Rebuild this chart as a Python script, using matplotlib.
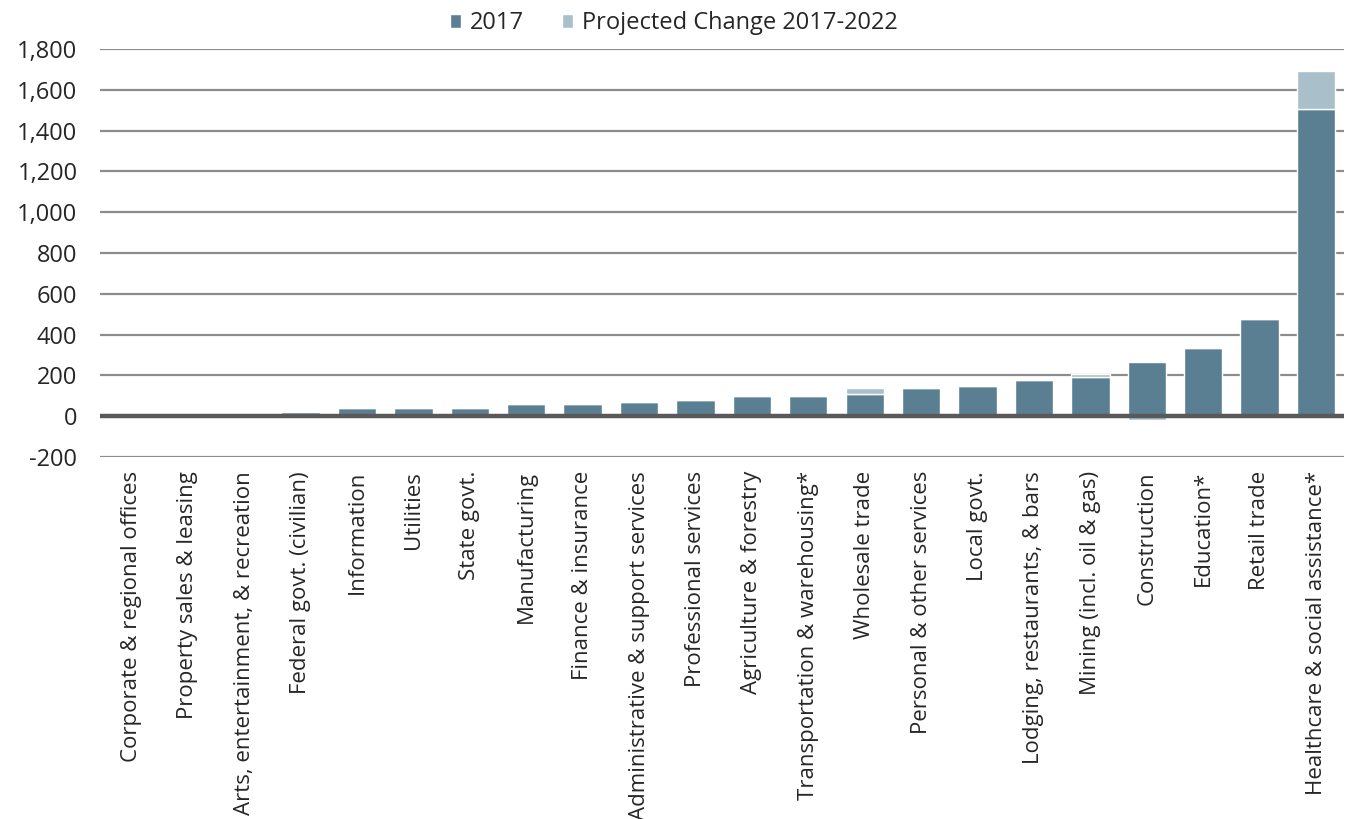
import matplotlib
matplotlib.use("Agg")
import matplotlib.pyplot as plt
import numpy as np

categories = ["Corporate & regional offices", "Property sales & leasing",
              "Arts, entertainment, & recreation", "Federal govt. (civilian)",
              "Information", "Utilities", "State govt.", "Manufacturing",
              "Finance & insurance", "Administrative & support services",
              "Professional services", "Agriculture & forestry",
              "Transportation & warehousing*", "Wholesale trade",
              "Personal & other services", "Local govt.",
              "Lodging, restaurants, & bars", "Mining (incl. oil & gas)",
              "Construction", "Education*", "Retail trade",
              "Healthcare & social assistance*"]
values_2017 = [0, 0, 0, 20, 40, 40, 40, 60, 60, 70, 80, 100, 100, 110, 140, 150,
               180, 190, 265, 335, 475, 1505]
change_2017_2022 = [0, 0, 0, 0, 0, 0, 0, 0, 0, 0, 0, 0, 0, 30, 0, 0, 0, 17, -20,
                    0, 0, 190]
yticks = [-200, 0, 200, 400, 600, 800, 1000, 1200, 1400, 1600, 1800]

dark = "#5b7f92"
light = "#a9bfca"
txt = "#262626"

plt.rcParams['font.family'] = ['Open Sans', 'DejaVu Sans']

fig = plt.figure(figsize=(13.47, 8.19), dpi=100)
ax = fig.add_axes([0.074, 0.442, 0.924, 0.498])

x = np.arange(len(categories))
v = np.array(values_2017, dtype=float)
c = np.array(change_2017_2022, dtype=float)
bottoms = np.where(c >= 0, v, 0)

ax.bar(x, v, width=0.68, color=dark, edgecolor="white", linewidth=1.0,
       zorder=3, label="2017")
ax.bar(x, c, bottom=bottoms, width=0.68, color=light, edgecolor="white",
       linewidth=1.0, zorder=3, label="Projected Change 2017-2022")

ax.set_xlim(-0.56, len(categories) - 0.5)
ax.set_ylim(-200, 1800)
ax.set_yticks(yticks)
ax.set_yticklabels([f"{t:,}" for t in yticks], fontsize=17, color=txt)
for t in yticks:
    if t != 0:
        ax.axhline(t, color="#8c8c8c", linewidth=1.6, zorder=1)
ax.axhline(0, color="#595959", linewidth=3.2, zorder=4)

ax.set_xticks(x)
ax.set_xticklabels(categories, rotation=90, fontsize=16, color=txt,
                   ha="center", va="top")
ax.tick_params(axis="y", length=0, pad=16)
ax.tick_params(axis="x", length=0, pad=10)
for s in ax.spines.values():
    s.set_visible(False)

leg = fig.legend(loc="upper center", bbox_to_anchor=(0.5, 1.012), ncol=2,
                 frameon=False, fontsize=17, handlelength=0.5,
                 handleheight=0.5, handletextpad=0.35, columnspacing=1.6)
for t in leg.get_texts():
    t.set_color(txt)

fig.savefig("out.png", dpi=100, facecolor="white")
